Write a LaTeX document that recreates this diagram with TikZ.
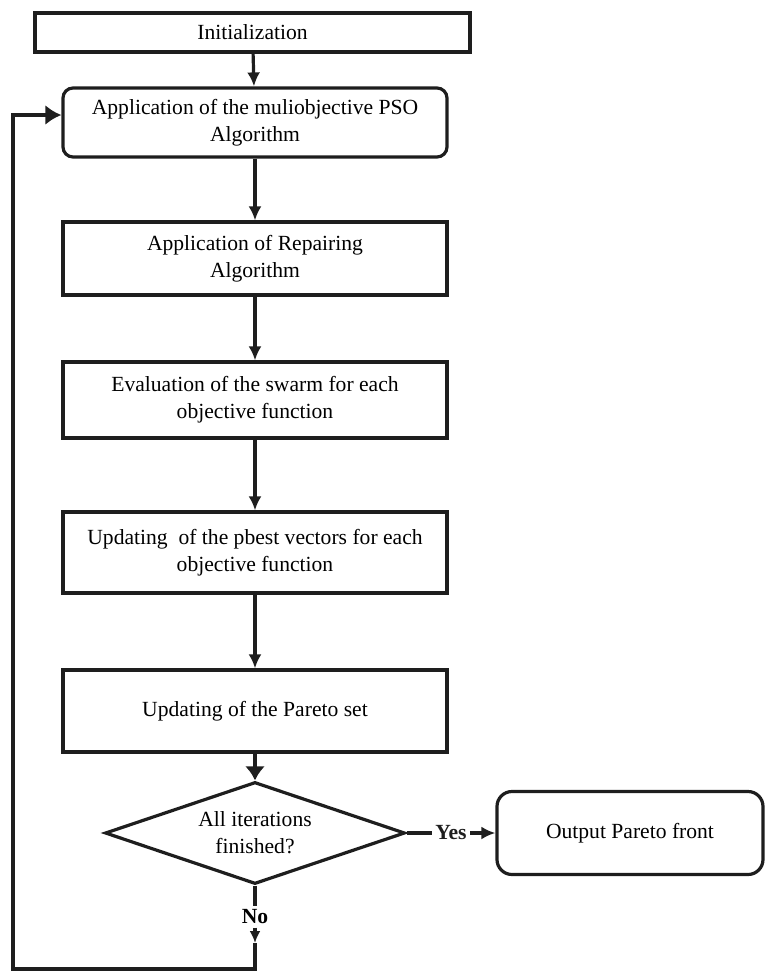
\documentclass[tikz,border=0pt]{standalone}
\usepackage{fontspec}
\setmainfont{Liberation Serif}
\usepackage{xcolor}
\usetikzlibrary{shapes,arrows,arrows.meta,positioning}
\definecolor{ink}{RGB}{30,30,30}

\begin{document}
\begin{tikzpicture}[node distance=45pt, font=\fontsize{10.8}{13.5}\selectfont,
    stage/.style={rectangle, draw=ink, line width=1.6pt, align=center, minimum width=192pt, inner sep=2pt},
    decision/.style={diamond, draw=ink, line width=1.6pt, aspect=3, align=center, minimum width=150pt, minimum height=51pt, inner sep=0pt},
    link/.style={-{Latex[length=7pt,width=6.5pt]}, line width=1.6pt, ink}]
    \useasboundingbox (0,0) rectangle (382.5pt,-485.5pt);

    \node[stage, minimum width=217.5pt, minimum height=19.5pt] (init) at (126.25pt,-16.25pt) {Initialization};

    \node[stage, rounded corners=5pt, minimum height=34.5pt, node distance=45pt, below of=init, xshift=1.25pt] (pso) {Application of the muliobjective PSO\\Algorithm};

    \node[stage, minimum height=36.5pt, node distance=68pt, below of=pso] (repair) {Application of Repairing\\Algorithm};

    \node[stage, minimum height=38pt, node distance=70.75pt, below of=repair] (eval) {Evaluation of the swarm for each\\objective function};

    \node[stage, minimum height=40.5pt, node distance=76.25pt, below of=eval] (pbest) {Updating\ \ of the pbest vectors for each\\objective function};

    \node[stage, minimum height=41pt, node distance=79.25pt, below of=pbest] (pareto) {Updating of the Pareto set};

    \node[decision, node distance=61pt, below of=pareto] (dec) {All iterations\\finished?};

    \node[stage, rounded corners=7.5pt, minimum width=133pt, minimum height=41.5pt, node distance=187.5pt, right of=dec] (out) {Output Pareto front};

    \node[node distance=42pt, below of=dec, inner sep=1.5pt] (no) {\textbf{No}};
    \coordinate[node distance=13pt, below of=no] (tip);
    \coordinate[node distance=26pt, below of=no] (bot);
    \coordinate (corner) at (6.5pt,-484.5pt);

    \draw[link] (init) -- (pso);
    \draw[link] (pso) -- (repair);
    \draw[link] (repair) -- (eval);
    \draw[link] (eval) -- (pbest);
    \draw[link] (pbest) -- (pareto);
    \draw[link, -{Latex[length=7pt,width=10pt]}] (pareto) -- (dec);
    \draw[link] (dec) -- node[fill=white, inner sep=1.5pt] {\textbf{Yes}} (out);
    \draw[line width=1.6pt, ink] (dec) -- (no);
    \draw[link, -{Latex[length=6pt,width=5.5pt]}] (no) -- (tip);
    \draw[link, -{Latex[length=8pt,width=10pt]}] (tip) -- (bot) -- (corner) |- ([yshift=3.75pt]pso.west);
\end{tikzpicture}
\end{document}
